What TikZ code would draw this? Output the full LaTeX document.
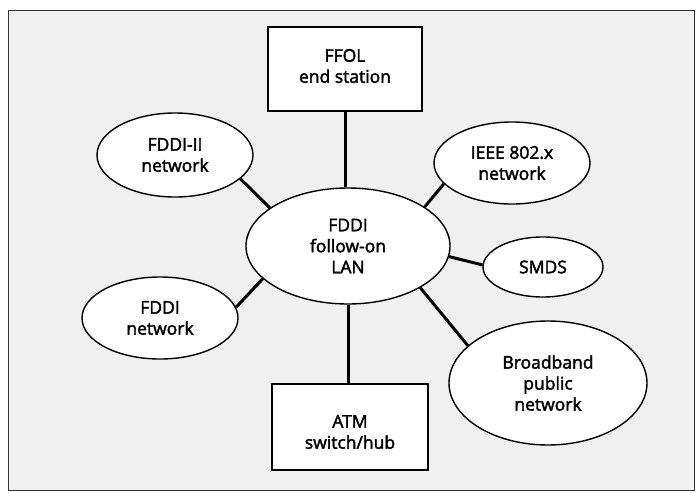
\documentclass[tikz,border=0pt]{standalone}
\usepackage{fontspec}
\setmainfont{Open Sans}[FakeBold=2.2]
\usetikzlibrary{shapes.geometric}
\tikzset{
  lbl/.style={font=\fontsize{17.5}{21}\selectfont, align=center, text=black},
  ell/.style={lbl, ellipse, draw=black, line width=1.4pt, fill=white, inner sep=0pt},
  boxnode/.style={rectangle, draw=black, line width=1.6pt, fill=white, inner sep=0pt},
  link/.style={line width=3pt, black}
}
\begin{document}
\begin{tikzpicture}[x=1pt,y=-1pt]
\useasboundingbox (0,0) rectangle (697,493);
\fill[white] (0,0) rectangle (697,493);
\draw[fill=black!6, draw=black!80, line width=0.9pt] (8,10) rectangle (694,490);

\node[boxnode, minimum width=154pt, minimum height=84pt] (ffol) at (345,69) {};
\node[lbl] (ffoltext) at (345,66) {FFOL\\end station};
\node[boxnode, minimum width=156pt, minimum height=86pt] (atm) at (350,427) {};
\node[lbl] (atmtext) at (350,432) {ATM\\switch/hub};

\node[ell, minimum width=204pt, minimum height=116pt] (lan) at (348,246) {FDDI\\follow-on\\LAN};
\node[ell, minimum width=156pt, minimum height=84pt] (fddi2) at (175,155) {FDDI-II\\network};
\node[ell, minimum width=156pt, minimum height=82pt] (ieee) at (512,163) {IEEE 802.x\\network};
\node[ell, minimum width=120pt, minimum height=60pt] (smds) at (543,267) {SMDS};
\node[ell, minimum width=198pt, minimum height=124pt] (bb) at (548,383) {Broadband\\public\\network};
\node[ell, minimum width=156pt, minimum height=82pt] (fddi) at (160,318) {FDDI\\network};

\draw[link] (ffol.south) -- (ffol.south |- lan.north);
\draw[link] (lan.south) -- (lan.south |- atm.north);
\draw[link] (fddi2.-20) -- (lan.154);
\draw[link] (ieee.-163) -- (lan.27);
\draw[link] (smds.178) -- (lan.-6);
\draw[link] (bb.155) -- (lan.-30);
\draw[link] (fddi.8) -- (lan.-159);
\end{tikzpicture}
\end{document}
